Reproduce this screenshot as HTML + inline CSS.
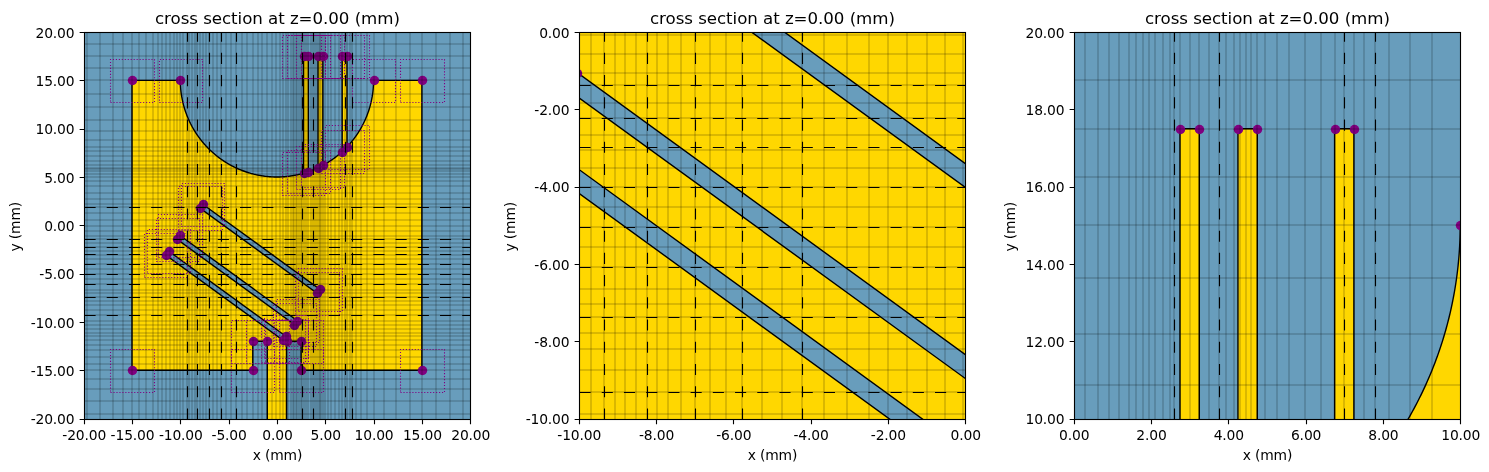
<!DOCTYPE html>
<html lang="en"><head><meta charset="utf-8"><title>cross section at z=0.00 (mm)</title>
<style>html,body{margin:0;padding:0;background:#fff}svg{display:block}.t{font-family:"DejaVu Sans","Liberation Sans",sans-serif;font-size:13.89px;fill:#000;letter-spacing:-0.15px}.ti{font-family:"DejaVu Sans","Liberation Sans",sans-serif;font-size:16.67px;fill:#000;letter-spacing:-0.05px}</style></head><body>
<svg width="1489" height="472" viewBox="0 0 1489 472">
<rect width="1489" height="472" fill="#fff"/>
<defs>
<clipPath id="c0"><rect x="84" y="32" width="386" height="387"/></clipPath>
<clipPath id="c1"><rect x="579" y="32" width="386" height="387"/></clipPath>
<clipPath id="c2"><rect x="1074" y="32" width="386" height="387"/></clipPath>
</defs>
<g clip-path="url(#c0)">
<rect x="81.7" y="30.05" width="390.5" height="390.5" fill="#689dbc"/>
<path d="M132.01 370.24 L252.79 370.24 L252.79 341.25 L267.29 341.25 L267.29 437.88 L286.61 437.88 L286.61 341.25 L301.11 341.25 L301.11 370.24 L421.89 370.24 L421.89 80.36 L373.57 80.36 L373.57 80.36 L373.57 81.12 L373.56 81.88 L373.55 82.64 L373.53 83.4 L373.5 84.16 L373.47 84.91 L373.43 85.67 L373.38 86.43 L373.33 87.19 L373.28 87.94 L373.21 88.7 L373.15 89.46 L373.07 90.21 L372.99 90.97 L372.91 91.72 L372.81 92.47 L372.72 93.23 L372.61 93.98 L372.5 94.73 L372.39 95.48 L372.26 96.23 L372.14 96.98 L372 97.72 L371.86 98.47 L371.72 99.21 L371.57 99.96 L371.41 100.7 L371.25 101.44 L371.08 102.18 L370.91 102.92 L370.73 103.66 L370.54 104.39 L370.35 105.13 L370.15 105.86 L369.95 106.59 L369.74 107.32 L369.52 108.05 L369.3 108.77 L369.08 109.5 L368.85 110.22 L368.61 110.94 L368.37 111.66 L368.12 112.38 L367.86 113.09 L367.6 113.81 L367.34 114.52 L367.07 115.23 L366.79 115.93 L366.51 116.64 L366.22 117.34 L365.93 118.04 L365.63 118.74 L365.32 119.43 L365.01 120.13 L364.7 120.82 L364.38 121.5 L364.05 122.19 L363.72 122.87 L363.39 123.55 L363.04 124.23 L362.7 124.9 L362.34 125.58 L361.99 126.25 L361.62 126.91 L361.25 127.58 L360.88 128.24 L360.5 128.89 L360.12 129.55 L359.73 130.2 L359.34 130.85 L358.94 131.49 L358.53 132.14 L358.12 132.78 L357.71 133.41 L357.29 134.04 L356.87 134.67 L356.44 135.3 L356 135.92 L355.56 136.54 L355.12 137.16 L354.67 137.77 L354.22 138.38 L353.76 138.98 L353.3 139.58 L352.83 140.18 L352.36 140.78 L351.88 141.37 L351.4 141.95 L350.91 142.54 L350.42 143.12 L349.93 143.69 L349.43 144.26 L348.93 144.83 L348.42 145.39 L347.9 145.95 L347.39 146.51 L347 146.91 L347 56.21 L342.17 56.21 L342.17 151.65 L341.98 151.83 L341.42 152.34 L340.85 152.84 L340.28 153.34 L339.7 153.84 L339.12 154.33 L338.54 154.81 L337.95 155.29 L337.36 155.77 L336.77 156.24 L336.17 156.71 L335.57 157.17 L334.97 157.63 L334.36 158.09 L333.74 158.53 L333.13 158.98 L332.51 159.42 L331.89 159.85 L331.26 160.28 L330.63 160.7 L330 161.12 L329.36 161.54 L328.72 161.95 L328.08 162.35 L327.44 162.75 L326.79 163.14 L326.14 163.53 L325.48 163.92 L324.82 164.29 L324.16 164.67 L323.5 165.04 L322.85 165.39 L322.85 56.21 L318.02 56.21 L318.02 167.83 L317.4 168.11 L316.71 168.43 L316.02 168.74 L315.32 169.04 L314.63 169.34 L313.93 169.63 L313.22 169.92 L312.52 170.2 L311.81 170.48 L311.1 170.75 L310.39 171.02 L309.68 171.28 L308.97 171.53 L308.35 171.74 L308.35 56.21 L303.52 56.21 L303.52 173.26 L303.18 173.36 L302.45 173.56 L301.71 173.76 L300.98 173.95 L300.24 174.14 L299.51 174.32 L298.77 174.49 L298.03 174.66 L297.29 174.82 L296.54 174.98 L295.8 175.13 L295.06 175.28 L294.31 175.42 L293.56 175.55 L292.81 175.68 L292.07 175.8 L291.32 175.91 L290.56 176.02 L289.81 176.13 L289.06 176.23 L288.31 176.32 L287.55 176.4 L286.8 176.48 L286.04 176.56 L285.29 176.63 L284.53 176.69 L283.77 176.75 L283.02 176.8 L282.26 176.84 L281.5 176.88 L280.74 176.91 L279.99 176.94 L279.23 176.96 L278.47 176.98 L277.71 176.98 L276.95 176.99 L276.19 176.98 L275.43 176.98 L274.67 176.96 L273.91 176.94 L273.16 176.91 L272.4 176.88 L271.64 176.84 L270.88 176.8 L270.13 176.75 L269.37 176.69 L268.61 176.63 L267.86 176.56 L267.1 176.48 L266.35 176.4 L265.59 176.32 L264.84 176.23 L264.09 176.13 L263.34 176.02 L262.58 175.91 L261.83 175.8 L261.09 175.68 L260.34 175.55 L259.59 175.42 L258.84 175.28 L258.1 175.13 L257.36 174.98 L256.61 174.82 L255.87 174.66 L255.13 174.49 L254.39 174.32 L253.66 174.14 L252.92 173.95 L252.19 173.76 L251.45 173.56 L250.72 173.36 L249.99 173.15 L249.26 172.94 L248.54 172.72 L247.81 172.49 L247.09 172.26 L246.37 172.02 L245.65 171.78 L244.93 171.53 L244.22 171.28 L243.51 171.02 L242.8 170.75 L242.09 170.48 L241.38 170.2 L240.68 169.92 L239.97 169.63 L239.27 169.34 L238.58 169.04 L237.88 168.74 L237.19 168.43 L236.5 168.11 L235.81 167.79 L235.12 167.47 L234.44 167.13 L233.76 166.8 L233.08 166.46 L232.41 166.11 L231.74 165.76 L231.07 165.4 L230.4 165.04 L229.74 164.67 L229.08 164.29 L228.42 163.92 L227.76 163.53 L227.11 163.14 L226.46 162.75 L225.82 162.35 L225.18 161.95 L224.54 161.54 L223.9 161.12 L223.27 160.7 L222.64 160.28 L222.01 159.85 L221.39 159.42 L220.77 158.98 L220.16 158.53 L219.54 158.09 L218.93 157.63 L218.33 157.17 L217.73 156.71 L217.13 156.24 L216.54 155.77 L215.95 155.29 L215.36 154.81 L214.78 154.33 L214.2 153.84 L213.62 153.34 L213.05 152.84 L212.48 152.34 L211.92 151.83 L211.36 151.32 L210.81 150.8 L210.25 150.28 L209.71 149.75 L209.16 149.22 L208.63 148.69 L208.09 148.15 L207.56 147.61 L207.04 147.06 L206.51 146.51 L206 145.95 L205.48 145.39 L204.97 144.83 L204.47 144.26 L203.97 143.69 L203.48 143.12 L202.99 142.54 L202.5 141.95 L202.02 141.37 L201.54 140.78 L201.07 140.18 L200.6 139.58 L200.14 138.98 L199.68 138.38 L199.23 137.77 L198.78 137.16 L198.34 136.54 L197.9 135.92 L197.46 135.3 L197.03 134.67 L196.61 134.04 L196.19 133.41 L195.78 132.78 L195.37 132.14 L194.96 131.49 L194.56 130.85 L194.17 130.2 L193.78 129.55 L193.4 128.89 L193.02 128.24 L192.65 127.58 L192.28 126.91 L191.91 126.25 L191.56 125.58 L191.2 124.9 L190.86 124.23 L190.51 123.55 L190.18 122.87 L189.85 122.19 L189.52 121.5 L189.2 120.82 L188.89 120.13 L188.58 119.43 L188.27 118.74 L187.97 118.04 L187.68 117.34 L187.39 116.64 L187.11 115.93 L186.83 115.23 L186.56 114.52 L186.3 113.81 L186.04 113.09 L185.78 112.38 L185.53 111.66 L185.29 110.94 L185.05 110.22 L184.82 109.5 L184.6 108.77 L184.38 108.05 L184.16 107.32 L183.95 106.59 L183.75 105.86 L183.55 105.13 L183.36 104.39 L183.17 103.66 L182.99 102.92 L182.82 102.18 L182.65 101.44 L182.49 100.7 L182.33 99.96 L182.18 99.21 L182.04 98.47 L181.9 97.72 L181.76 96.98 L181.64 96.23 L181.51 95.48 L181.4 94.73 L181.29 93.98 L181.18 93.23 L181.09 92.47 L180.99 91.72 L180.91 90.97 L180.83 90.21 L180.75 89.46 L180.69 88.7 L180.62 87.94 L180.57 87.19 L180.52 86.43 L180.47 85.67 L180.43 84.91 L180.4 84.16 L180.37 83.4 L180.35 82.64 L180.34 81.88 L180.33 81.12 L180.32 80.36 L132.01 80.36 Z M202.7 204.2 L319.96 289.39 L317.12 293.3 L199.86 208.11 Z M179.99 235.47 L297.24 320.66 L294.4 324.57 L177.15 239.38 Z M168.63 251.1 L285.88 336.3 L283.04 340.2 L165.79 255.01 Z" fill="#ffd700" fill-rule="evenodd" stroke="#000" stroke-width="1.39" stroke-linejoin="miter"/>
<circle cx="132.5" cy="370.5" r="4.75" fill="#800080"/>
<circle cx="422.5" cy="370.5" r="4.75" fill="#800080"/>
<circle cx="422.5" cy="80.5" r="4.75" fill="#800080"/>
<circle cx="132.5" cy="80.5" r="4.75" fill="#800080"/>
<circle cx="374.5" cy="80.5" r="4.75" fill="#800080"/>
<circle cx="180.5" cy="80.5" r="4.75" fill="#800080"/>
<circle cx="253.5" cy="370.5" r="4.75" fill="#800080"/>
<circle cx="253.5" cy="341.5" r="4.75" fill="#800080"/>
<circle cx="267.5" cy="341.5" r="4.75" fill="#800080"/>
<circle cx="287.5" cy="341.5" r="4.75" fill="#800080"/>
<circle cx="301.5" cy="341.5" r="4.75" fill="#800080"/>
<circle cx="301.5" cy="370.5" r="4.75" fill="#800080"/>
<circle cx="304.5" cy="56.5" r="4.75" fill="#800080"/>
<circle cx="308.5" cy="56.5" r="4.75" fill="#800080"/>
<circle cx="304.5" cy="173.5" r="4.75" fill="#800080"/>
<circle cx="308.5" cy="172.5" r="4.75" fill="#800080"/>
<circle cx="318.5" cy="56.5" r="4.75" fill="#800080"/>
<circle cx="323.5" cy="56.5" r="4.75" fill="#800080"/>
<circle cx="318.5" cy="168.5" r="4.75" fill="#800080"/>
<circle cx="323.5" cy="165.5" r="4.75" fill="#800080"/>
<circle cx="342.5" cy="56.5" r="4.75" fill="#800080"/>
<circle cx="347.5" cy="56.5" r="4.75" fill="#800080"/>
<circle cx="342.5" cy="152.5" r="4.75" fill="#800080"/>
<circle cx="347.5" cy="147.5" r="4.75" fill="#800080"/>
<circle cx="203.5" cy="204.5" r="4.75" fill="#800080"/>
<circle cx="320.5" cy="289.5" r="4.75" fill="#800080"/>
<circle cx="317.5" cy="293.5" r="4.75" fill="#800080"/>
<circle cx="200.5" cy="208.5" r="4.75" fill="#800080"/>
<circle cx="180.5" cy="235.5" r="4.75" fill="#800080"/>
<circle cx="297.5" cy="321.5" r="4.75" fill="#800080"/>
<circle cx="294.5" cy="325.5" r="4.75" fill="#800080"/>
<circle cx="177.5" cy="239.5" r="4.75" fill="#800080"/>
<circle cx="169.5" cy="251.5" r="4.75" fill="#800080"/>
<circle cx="286.5" cy="336.5" r="4.75" fill="#800080"/>
<circle cx="283.5" cy="340.5" r="4.75" fill="#800080"/>
<circle cx="166.5" cy="255.5" r="4.75" fill="#800080"/>
<path d="M87 30.05V420.55M100 30.05V420.55M113 30.05V420.55M123 30.05V420.55M132 30.05V420.55M139 30.05V420.55M146 30.05V420.55M153 30.05V420.55M158 30.05V420.55M162 30.05V420.55M166 30.05V420.55M170 30.05V420.55M174 30.05V420.55M177 30.05V420.55M180 30.05V420.55M183 30.05V420.55M189 30.05V420.55M192 30.05V420.55M195 30.05V420.55M200 30.05V420.55M203 30.05V420.55M206 30.05V420.55M213 30.05V420.55M217 30.05V420.55M226 30.05V420.55M231 30.05V420.55M242 30.05V420.55M247 30.05V420.55M253 30.05V420.55M258 30.05V420.55M262 30.05V420.55M267 30.05V420.55M272 30.05V420.55M276 30.05V420.55M280 30.05V420.55M283 30.05V420.55M286 30.05V420.55M288 30.05V420.55M291 30.05V420.55M293 30.05V420.55M294 30.05V420.55M296 30.05V420.55M297 30.05V420.55M299 30.05V420.55M301 30.05V420.55M304 30.05V420.55M306 30.05V420.55M308 30.05V420.55M311 30.05V420.55M315 30.05V420.55M317 30.05V420.55M319 30.05V420.55M320 30.05V420.55M321 30.05V420.55M323 30.05V420.55M325 30.05V420.55M328 30.05V420.55M331 30.05V420.55M335 30.05V420.55M339 30.05V420.55M342 30.05V420.55M347 30.05V420.55M350 30.05V420.55M356 30.05V420.55M361 30.05V420.55M367 30.05V420.55M374 30.05V420.55M384 30.05V420.55M396 30.05V420.55M410 30.05V420.55M422 30.05V420.55M436 30.05V420.55M450 30.05V420.55M463 30.05V420.55M187 30.05V420.55M197 30.05V420.55M209 30.05V420.55M221 30.05V420.55M236 30.05V420.55M302 30.05V420.55M313 30.05V420.55M345 30.05V420.55M352 30.05V420.55M81.7 44H472.2M81.7 56H472.2M81.7 68H472.2M81.7 80H472.2M81.7 94H472.2M81.7 107H472.2M81.7 120H472.2M81.7 131H472.2M81.7 140H472.2M81.7 147H472.2M81.7 151H472.2M81.7 156H472.2M81.7 161H472.2M81.7 165H472.2M81.7 168H472.2M81.7 169H472.2M81.7 171H472.2M81.7 174H472.2M81.7 177H472.2M81.7 181H472.2M81.7 186H472.2M81.7 193H472.2M81.7 199H472.2M81.7 204H472.2M81.7 213H472.2M81.7 220H472.2M81.7 226H472.2M81.7 231H472.2M81.7 236H472.2M81.7 243H472.2M81.7 251H472.2M81.7 255H472.2M81.7 259H472.2M81.7 269H472.2M81.7 279H472.2M81.7 290H472.2M81.7 293H472.2M81.7 301H472.2M81.7 305H472.2M81.7 310H472.2M81.7 321H472.2M81.7 325H472.2M81.7 329H472.2M81.7 333H472.2M81.7 336H472.2M81.7 340H472.2M81.7 345H472.2M81.7 350H472.2M81.7 357H472.2M81.7 364H472.2M81.7 370H472.2M81.7 379H472.2M81.7 389H472.2M81.7 401H472.2M81.7 414H472.2M81.7 207H472.2M81.7 239H472.2M81.7 247H472.2M81.7 264H472.2M81.7 274H472.2M81.7 284H472.2M81.7 297H472.2M81.7 315H472.2" fill="none" stroke="#000" stroke-width="0.3" stroke-opacity="1.0"/>
<path d="M110.5 392.5H154.5V349.5H110.5ZM400.5 392.5H444.5V349.5H400.5ZM400.5 102.5H444.5V59.5H400.5ZM110.5 102.5H154.5V59.5H110.5ZM352.5 102.5H395.5V59.5H352.5ZM159.5 102.5H202.5V59.5H159.5ZM231.5 392.5H274.5V349.5H231.5ZM231.5 363.5H274.5V320.5H231.5ZM246.5 363.5H289.5V320.5H246.5ZM265.5 363.5H308.5V320.5H265.5ZM279.5 363.5H323.5V320.5H279.5ZM279.5 392.5H323.5V349.5H279.5ZM282.5 78.5H325.5V35.5H282.5ZM287.5 78.5H330.5V35.5H287.5ZM282.5 195.5H325.5V152.5H282.5ZM287.5 193.5H330.5V150.5H287.5ZM296.5 78.5H340.5V35.5H296.5ZM301.5 78.5H344.5V35.5H301.5ZM296.5 189.5H340.5V146.5H296.5ZM301.5 187.5H344.5V144.5H301.5ZM321.5 78.5H364.5V35.5H321.5ZM325.5 78.5H369.5V35.5H325.5ZM321.5 173.5H364.5V130.5H321.5ZM325.5 169.5H369.5V125.5H325.5ZM181.5 226.5H224.5V183.5H181.5ZM298.5 311.5H342.5V268.5H298.5ZM295.5 315.5H339.5V272.5H295.5ZM178.5 230.5H222.5V186.5H178.5ZM158.5 257.5H202.5V214.5H158.5ZM276.5 342.5H319.5V299.5H276.5ZM273.5 346.5H316.5V303.5H273.5ZM156.5 261.5H199.5V218.5H156.5ZM147.5 273.5H190.5V229.5H147.5ZM264.5 358.5H308.5V315.5H264.5ZM261.5 362.5H305.5V319.5H261.5ZM144.5 277.5H187.5V233.5H144.5Z" fill="none" stroke="#800080" stroke-width="1.11" stroke-dasharray="1.12 1.845"/>
<path d="M187.5 419.5V32.5M197.5 419.5V32.5M209.5 419.5V32.5M221.5 419.5V32.5M236.5 419.5V32.5M302.5 419.5V32.5M313.5 419.5V32.5M345.5 419.5V32.5M352.5 419.5V32.5M84.5 207.5H470.5M84.5 239.5H470.5M84.5 247.5H470.5M84.5 254.5H470.5M84.5 264.5H470.5M84.5 274.5H470.5M84.5 284.5H470.5M84.5 297.5H470.5M84.5 315.5H470.5" fill="none" stroke="#000" stroke-width="1.11" stroke-dasharray="11.11 11.11"/>
</g>
<text x="84.2" y="440.25" text-anchor="middle" class="t">-20.00</text>
<text x="74.48" y="37.85" text-anchor="end" class="t">20.00</text>
<text x="132.51" y="440.25" text-anchor="middle" class="t">-15.00</text>
<text x="74.48" y="86.16" text-anchor="end" class="t">15.00</text>
<text x="180.82" y="440.25" text-anchor="middle" class="t">-10.00</text>
<text x="74.48" y="134.48" text-anchor="end" class="t">10.00</text>
<text x="229.14" y="440.25" text-anchor="middle" class="t">-5.00</text>
<text x="74.48" y="182.79" text-anchor="end" class="t">5.00</text>
<text x="277.45" y="440.25" text-anchor="middle" class="t">0.00</text>
<text x="74.48" y="231.1" text-anchor="end" class="t">0.00</text>
<text x="325.76" y="440.25" text-anchor="middle" class="t">5.00</text>
<text x="74.48" y="279.41" text-anchor="end" class="t">-5.00</text>
<text x="374.07" y="440.25" text-anchor="middle" class="t">10.00</text>
<text x="74.48" y="327.73" text-anchor="end" class="t">-10.00</text>
<text x="422.39" y="440.25" text-anchor="middle" class="t">15.00</text>
<text x="74.48" y="376.04" text-anchor="end" class="t">-15.00</text>
<text x="470.7" y="440.25" text-anchor="middle" class="t">20.00</text>
<text x="74.48" y="424.35" text-anchor="end" class="t">-20.00</text>
<path d="M84.5 419.5v4.86M84.5 32.5h-4.86M132.5 419.5v4.86M84.5 80.5h-4.86M180.5 419.5v4.86M84.5 129.5h-4.86M229.5 419.5v4.86M84.5 177.5h-4.86M277.5 419.5v4.86M84.5 225.5h-4.86M325.5 419.5v4.86M84.5 274.5h-4.86M374.5 419.5v4.86M84.5 322.5h-4.86M422.5 419.5v4.86M84.5 370.5h-4.86M470.5 419.5v4.86M84.5 419.5h-4.86" stroke="#000" stroke-width="1.11" fill="none"/>
<rect x="84.5" y="32.5" width="386" height="387" fill="none" stroke="#000" stroke-width="1.11"/>
<text x="277.45" y="23.95" text-anchor="middle" class="ti">cross section at z=0.00 (mm)</text>
<text x="277.45" y="460.25" text-anchor="middle" class="t">x (mm)</text>
<text transform="translate(19.8 226.75) rotate(-90)" text-anchor="middle" class="t">y (mm)</text>
<g clip-path="url(#c1)">
<rect x="576.7" y="30.05" width="390.5" height="390.5" fill="#689dbc"/>
<path d="M385.45 611.8 L868.58 611.8 L868.58 495.85 L926.55 495.85 L926.55 882.35 L1003.85 882.35 L1003.85 495.85 L1061.83 495.85 L1061.83 611.8 L1544.95 611.8 L1544.95 -547.7 L1351.7 -547.7 L1351.7 -547.7 L1351.69 -544.66 L1351.65 -541.63 L1351.59 -538.59 L1351.51 -535.56 L1351.4 -532.53 L1351.27 -529.49 L1351.12 -526.46 L1350.94 -523.43 L1350.73 -520.4 L1350.51 -517.38 L1350.26 -514.35 L1349.98 -511.33 L1349.69 -508.31 L1349.37 -505.29 L1349.02 -502.27 L1348.65 -499.26 L1348.26 -496.25 L1347.84 -493.24 L1347.4 -490.24 L1346.94 -487.24 L1346.45 -484.24 L1345.94 -481.25 L1345.41 -478.26 L1344.85 -475.28 L1344.27 -472.3 L1343.67 -469.32 L1343.04 -466.35 L1342.39 -463.39 L1341.72 -460.43 L1341.02 -457.47 L1340.3 -454.52 L1339.56 -451.58 L1338.79 -448.64 L1338 -445.71 L1337.19 -442.79 L1336.35 -439.87 L1335.5 -436.96 L1334.61 -434.05 L1333.71 -431.16 L1332.78 -428.26 L1331.83 -425.38 L1330.86 -422.51 L1329.87 -419.64 L1328.85 -416.78 L1327.81 -413.93 L1326.75 -411.08 L1325.66 -408.25 L1324.56 -405.42 L1323.43 -402.6 L1322.28 -399.79 L1321.11 -396.99 L1319.91 -394.2 L1318.7 -391.42 L1317.46 -388.65 L1316.2 -385.89 L1314.92 -383.14 L1313.61 -380.39 L1312.29 -377.66 L1310.94 -374.94 L1309.57 -372.23 L1308.19 -369.53 L1306.78 -366.85 L1305.34 -364.17 L1303.89 -361.5 L1302.42 -358.85 L1300.93 -356.21 L1299.41 -353.57 L1297.88 -350.96 L1296.32 -348.35 L1294.75 -345.75 L1293.15 -343.17 L1291.53 -340.6 L1289.9 -338.05 L1288.24 -335.5 L1286.56 -332.97 L1284.87 -330.45 L1283.15 -327.95 L1281.41 -325.46 L1279.66 -322.98 L1277.89 -320.52 L1276.09 -318.07 L1274.28 -315.64 L1272.45 -313.22 L1270.59 -310.81 L1268.72 -308.42 L1266.84 -306.04 L1264.93 -303.68 L1263 -301.34 L1261.06 -299 L1259.1 -296.69 L1257.12 -294.39 L1255.12 -292.1 L1253.1 -289.83 L1251.07 -287.58 L1249.02 -285.34 L1246.95 -283.12 L1245.41 -281.5 L1245.41 -644.33 L1226.09 -644.33 L1226.09 -262.53 L1225.32 -261.83 L1223.07 -259.8 L1220.8 -257.78 L1218.51 -255.78 L1216.21 -253.8 L1213.9 -251.84 L1211.56 -249.9 L1209.22 -247.97 L1206.86 -246.06 L1204.48 -244.18 L1202.09 -242.31 L1199.68 -240.45 L1197.26 -238.62 L1194.83 -236.81 L1192.38 -235.01 L1189.92 -233.24 L1187.44 -231.49 L1184.95 -229.75 L1182.45 -228.03 L1179.93 -226.34 L1177.4 -224.66 L1174.85 -223 L1172.3 -221.37 L1169.73 -219.75 L1167.15 -218.15 L1164.55 -216.58 L1161.94 -215.02 L1159.33 -213.49 L1156.69 -211.97 L1154.05 -210.48 L1151.4 -209.01 L1148.79 -207.59 L1148.79 -644.33 L1129.46 -644.33 L1129.46 -197.84 L1127.01 -196.7 L1124.25 -195.44 L1121.48 -194.2 L1118.7 -192.99 L1115.91 -191.79 L1113.11 -190.62 L1110.3 -189.47 L1107.48 -188.34 L1104.65 -187.24 L1101.82 -186.15 L1098.97 -185.09 L1096.12 -184.05 L1093.26 -183.03 L1090.81 -182.18 L1090.81 -644.33 L1071.49 -644.33 L1071.49 -176.1 L1070.11 -175.71 L1067.19 -174.9 L1064.26 -174.11 L1061.32 -173.34 L1058.38 -172.6 L1055.43 -171.88 L1052.47 -171.18 L1049.51 -170.51 L1046.55 -169.86 L1043.58 -169.23 L1040.6 -168.63 L1037.62 -168.05 L1034.64 -167.49 L1031.65 -166.96 L1028.66 -166.45 L1025.66 -165.96 L1022.66 -165.5 L1019.66 -165.06 L1016.65 -164.64 L1013.64 -164.25 L1010.63 -163.88 L1007.61 -163.53 L1004.59 -163.21 L1001.57 -162.92 L998.55 -162.64 L995.52 -162.39 L992.5 -162.17 L989.47 -161.96 L986.44 -161.78 L983.41 -161.63 L980.37 -161.5 L977.34 -161.39 L974.31 -161.31 L971.27 -161.25 L968.24 -161.21 L965.2 -161.2 L962.16 -161.21 L959.13 -161.25 L956.09 -161.31 L953.06 -161.39 L950.03 -161.5 L946.99 -161.63 L943.96 -161.78 L940.93 -161.96 L937.9 -162.17 L934.88 -162.39 L931.85 -162.64 L928.83 -162.92 L925.81 -163.21 L922.79 -163.53 L919.77 -163.88 L916.76 -164.25 L913.75 -164.64 L910.74 -165.06 L907.74 -165.5 L904.74 -165.96 L901.74 -166.45 L898.75 -166.96 L895.76 -167.49 L892.78 -168.05 L889.8 -168.63 L886.82 -169.23 L883.85 -169.86 L880.89 -170.51 L877.93 -171.18 L874.97 -171.88 L872.02 -172.6 L869.08 -173.34 L866.14 -174.11 L863.21 -174.9 L860.29 -175.71 L857.37 -176.55 L854.46 -177.4 L851.55 -178.29 L848.66 -179.19 L845.76 -180.12 L842.88 -181.07 L840.01 -182.04 L837.14 -183.03 L834.28 -184.05 L831.43 -185.09 L828.58 -186.15 L825.75 -187.24 L822.92 -188.34 L820.1 -189.47 L817.29 -190.62 L814.49 -191.79 L811.7 -192.99 L808.92 -194.2 L806.15 -195.44 L803.39 -196.7 L800.64 -197.98 L797.89 -199.29 L795.16 -200.61 L792.44 -201.96 L789.73 -203.33 L787.03 -204.71 L784.35 -206.12 L781.67 -207.56 L779 -209.01 L776.35 -210.48 L773.71 -211.97 L771.07 -213.49 L768.46 -215.02 L765.85 -216.58 L763.25 -218.15 L760.67 -219.75 L758.1 -221.37 L755.55 -223 L753 -224.66 L750.47 -226.34 L747.95 -228.03 L745.45 -229.75 L742.96 -231.49 L740.48 -233.24 L738.02 -235.01 L735.57 -236.81 L733.14 -238.62 L730.72 -240.45 L728.31 -242.31 L725.92 -244.18 L723.54 -246.06 L721.18 -247.97 L718.84 -249.9 L716.5 -251.84 L714.19 -253.8 L711.89 -255.78 L709.6 -257.78 L707.33 -259.8 L705.08 -261.83 L702.84 -263.88 L700.62 -265.95 L698.42 -268.04 L696.23 -270.14 L694.06 -272.27 L691.9 -274.4 L689.77 -276.56 L687.64 -278.73 L685.54 -280.92 L683.45 -283.12 L681.38 -285.34 L679.33 -287.58 L677.3 -289.83 L675.28 -292.1 L673.28 -294.39 L671.3 -296.69 L669.34 -299 L667.4 -301.34 L665.47 -303.68 L663.56 -306.04 L661.68 -308.42 L659.81 -310.81 L657.95 -313.22 L656.12 -315.64 L654.31 -318.07 L652.51 -320.52 L650.74 -322.98 L648.99 -325.46 L647.25 -327.95 L645.53 -330.45 L643.84 -332.97 L642.16 -335.5 L640.5 -338.05 L638.87 -340.6 L637.25 -343.17 L635.65 -345.75 L634.08 -348.35 L632.52 -350.96 L630.99 -353.57 L629.47 -356.21 L627.98 -358.85 L626.51 -361.5 L625.06 -364.17 L623.62 -366.85 L622.21 -369.53 L620.83 -372.23 L619.46 -374.94 L618.11 -377.66 L616.79 -380.39 L615.48 -383.14 L614.2 -385.89 L612.94 -388.65 L611.7 -391.42 L610.49 -394.2 L609.29 -396.99 L608.12 -399.79 L606.97 -402.6 L605.84 -405.42 L604.74 -408.25 L603.65 -411.08 L602.59 -413.93 L601.55 -416.78 L600.53 -419.64 L599.54 -422.51 L598.57 -425.38 L597.62 -428.26 L596.69 -431.16 L595.79 -434.05 L594.9 -436.96 L594.05 -439.87 L593.21 -442.79 L592.4 -445.71 L591.61 -448.64 L590.84 -451.58 L590.1 -454.52 L589.38 -457.47 L588.68 -460.43 L588.01 -463.39 L587.36 -466.35 L586.73 -469.32 L586.13 -472.3 L585.55 -475.28 L584.99 -478.26 L584.46 -481.25 L583.95 -484.24 L583.46 -487.24 L583 -490.24 L582.56 -493.24 L582.14 -496.25 L581.75 -499.26 L581.38 -502.27 L581.03 -505.29 L580.71 -508.31 L580.42 -511.33 L580.14 -514.35 L579.89 -517.38 L579.67 -520.4 L579.46 -523.43 L579.28 -526.46 L579.13 -529.49 L579 -532.53 L578.89 -535.56 L578.81 -538.59 L578.75 -541.63 L578.71 -544.66 L578.7 -547.7 L385.45 -547.7 Z M668.21 -52.35 L1137.24 288.42 L1125.88 304.06 L656.85 -36.71 Z M577.34 72.73 L1046.37 413.5 L1035.01 429.13 L565.98 88.36 Z M531.9 135.27 L1000.93 476.03 L989.57 491.67 L520.55 150.9 Z" fill="#ffd700" fill-rule="evenodd" stroke="#000" stroke-width="1.39" stroke-linejoin="miter"/>
<circle cx="577.5" cy="73.5" r="4.75" fill="#800080"/>
<circle cx="566.5" cy="88.5" r="4.75" fill="#800080"/>
<path d="M591 30.05V420.55M615 30.05V420.55M625 30.05V420.55M636 30.05V420.55M657 30.05V420.55M668 30.05V420.55M681 30.05V420.55M710 30.05V420.55M726 30.05V420.55M762 30.05V420.55M782 30.05V420.55M824 30.05V420.55M847 30.05V420.55M869 30.05V420.55M888 30.05V420.55M907 30.05V420.55M927 30.05V420.55M945 30.05V420.55M963 30.05V420.55M604 30.05V420.55M647 30.05V420.55M695 30.05V420.55M742 30.05V420.55M802 30.05V420.55M576.7 35H967.2M576.7 54H967.2M576.7 73H967.2M576.7 103H967.2M576.7 135H967.2M576.7 150H967.2M576.7 168H967.2M576.7 207H967.2M576.7 247H967.2M576.7 289H967.2M576.7 304H967.2M576.7 333H967.2M576.7 349H967.2M576.7 370H967.2M576.7 414H967.2M576.7 85H967.2M576.7 118H967.2M576.7 187H967.2M576.7 227H967.2M576.7 267H967.2M576.7 317H967.2M576.7 392H967.2" fill="none" stroke="#000" stroke-width="0.3" stroke-opacity="1.0"/>
<path d="M604.5 419.5V32.5M647.5 419.5V32.5M695.5 419.5V32.5M742.5 419.5V32.5M802.5 419.5V32.5M579.5 85.5H965.5M579.5 118.5H965.5M579.5 147.5H965.5M579.5 187.5H965.5M579.5 227.5H965.5M579.5 267.5H965.5M579.5 317.5H965.5M579.5 392.5H965.5" fill="none" stroke="#000" stroke-width="1.11" stroke-dasharray="11.11 11.11"/>
</g>
<text x="579.2" y="440.25" text-anchor="middle" class="t">-10.00</text>
<text x="569.48" y="37.85" text-anchor="end" class="t">0.00</text>
<text x="656.5" y="440.25" text-anchor="middle" class="t">-8.00</text>
<text x="569.48" y="115.15" text-anchor="end" class="t">-2.00</text>
<text x="733.8" y="440.25" text-anchor="middle" class="t">-6.00</text>
<text x="569.48" y="192.45" text-anchor="end" class="t">-4.00</text>
<text x="811.1" y="440.25" text-anchor="middle" class="t">-4.00</text>
<text x="569.48" y="269.75" text-anchor="end" class="t">-6.00</text>
<text x="888.4" y="440.25" text-anchor="middle" class="t">-2.00</text>
<text x="569.48" y="347.05" text-anchor="end" class="t">-8.00</text>
<text x="965.7" y="440.25" text-anchor="middle" class="t">0.00</text>
<text x="569.48" y="424.35" text-anchor="end" class="t">-10.00</text>
<path d="M579.5 419.5v4.86M579.5 32.5h-4.86M656.5 419.5v4.86M579.5 109.5h-4.86M733.5 419.5v4.86M579.5 187.5h-4.86M811.5 419.5v4.86M579.5 264.5h-4.86M888.5 419.5v4.86M579.5 341.5h-4.86M965.5 419.5v4.86M579.5 419.5h-4.86" stroke="#000" stroke-width="1.11" fill="none"/>
<rect x="579.5" y="32.5" width="386" height="387" fill="none" stroke="#000" stroke-width="1.11"/>
<text x="772.45" y="23.95" text-anchor="middle" class="ti">cross section at z=0.00 (mm)</text>
<text x="772.45" y="460.25" text-anchor="middle" class="t">x (mm)</text>
<text transform="translate(514.8 226.75) rotate(-90)" text-anchor="middle" class="t">y (mm)</text>
<g clip-path="url(#c2)">
<rect x="1071.7" y="30.05" width="390.5" height="390.5" fill="#689dbc"/>
<path d="M493.95 1384.8 L977.08 1384.8 L977.08 1268.85 L1035.05 1268.85 L1035.05 1655.35 L1112.35 1655.35 L1112.35 1268.85 L1170.33 1268.85 L1170.33 1384.8 L1653.45 1384.8 L1653.45 225.3 L1460.2 225.3 L1460.2 225.3 L1460.19 228.34 L1460.15 231.37 L1460.09 234.41 L1460.01 237.44 L1459.9 240.47 L1459.77 243.51 L1459.62 246.54 L1459.44 249.57 L1459.23 252.6 L1459.01 255.62 L1458.76 258.65 L1458.48 261.67 L1458.19 264.69 L1457.87 267.71 L1457.52 270.73 L1457.15 273.74 L1456.76 276.75 L1456.34 279.76 L1455.9 282.76 L1455.44 285.76 L1454.95 288.76 L1454.44 291.75 L1453.91 294.74 L1453.35 297.72 L1452.77 300.7 L1452.17 303.68 L1451.54 306.65 L1450.89 309.61 L1450.22 312.57 L1449.52 315.53 L1448.8 318.48 L1448.06 321.42 L1447.29 324.36 L1446.5 327.29 L1445.69 330.21 L1444.85 333.13 L1444 336.04 L1443.11 338.95 L1442.21 341.84 L1441.28 344.74 L1440.33 347.62 L1439.36 350.49 L1438.37 353.36 L1437.35 356.22 L1436.31 359.07 L1435.25 361.92 L1434.16 364.75 L1433.06 367.58 L1431.93 370.4 L1430.78 373.21 L1429.61 376.01 L1428.41 378.8 L1427.2 381.58 L1425.96 384.35 L1424.7 387.11 L1423.42 389.86 L1422.11 392.61 L1420.79 395.34 L1419.44 398.06 L1418.07 400.77 L1416.69 403.47 L1415.28 406.15 L1413.84 408.83 L1412.39 411.5 L1410.92 414.15 L1409.43 416.79 L1407.91 419.43 L1406.38 422.04 L1404.82 424.65 L1403.25 427.25 L1401.65 429.83 L1400.03 432.4 L1398.4 434.95 L1396.74 437.5 L1395.06 440.03 L1393.37 442.55 L1391.65 445.05 L1389.91 447.54 L1388.16 450.02 L1386.39 452.48 L1384.59 454.93 L1382.78 457.36 L1380.95 459.78 L1379.09 462.19 L1377.22 464.58 L1375.34 466.96 L1373.43 469.32 L1371.5 471.66 L1369.56 474 L1367.6 476.31 L1365.62 478.61 L1363.62 480.9 L1361.6 483.17 L1359.57 485.42 L1357.52 487.66 L1355.45 489.88 L1353.91 491.5 L1353.91 128.68 L1334.59 128.68 L1334.59 510.47 L1333.82 511.17 L1331.57 513.2 L1329.3 515.22 L1327.01 517.22 L1324.71 519.2 L1322.4 521.16 L1320.06 523.1 L1317.72 525.03 L1315.36 526.94 L1312.98 528.82 L1310.59 530.69 L1308.18 532.55 L1305.76 534.38 L1303.33 536.19 L1300.88 537.99 L1298.42 539.76 L1295.94 541.51 L1293.45 543.25 L1290.95 544.97 L1288.43 546.66 L1285.9 548.34 L1283.35 550 L1280.8 551.63 L1278.23 553.25 L1275.65 554.85 L1273.05 556.42 L1270.44 557.98 L1267.83 559.51 L1265.19 561.03 L1262.55 562.52 L1259.9 563.99 L1257.29 565.41 L1257.29 128.68 L1237.96 128.68 L1237.96 575.16 L1235.51 576.3 L1232.75 577.56 L1229.98 578.8 L1227.2 580.01 L1224.41 581.21 L1221.61 582.38 L1218.8 583.53 L1215.98 584.66 L1213.15 585.76 L1210.32 586.85 L1207.47 587.91 L1204.62 588.95 L1201.76 589.97 L1199.31 590.82 L1199.31 128.68 L1179.99 128.68 L1179.99 596.9 L1178.61 597.29 L1175.69 598.1 L1172.76 598.89 L1169.82 599.66 L1166.88 600.4 L1163.93 601.12 L1160.97 601.82 L1158.01 602.49 L1155.05 603.14 L1152.08 603.77 L1149.1 604.37 L1146.12 604.95 L1143.14 605.51 L1140.15 606.04 L1137.16 606.55 L1134.16 607.04 L1131.16 607.5 L1128.16 607.94 L1125.15 608.36 L1122.14 608.75 L1119.13 609.12 L1116.11 609.47 L1113.09 609.79 L1110.07 610.08 L1107.05 610.36 L1104.02 610.61 L1101 610.83 L1097.97 611.04 L1094.94 611.22 L1091.91 611.37 L1088.87 611.5 L1085.84 611.61 L1082.81 611.69 L1079.77 611.75 L1076.74 611.79 L1073.7 611.8 L1070.66 611.79 L1067.63 611.75 L1064.59 611.69 L1061.56 611.61 L1058.53 611.5 L1055.49 611.37 L1052.46 611.22 L1049.43 611.04 L1046.4 610.83 L1043.38 610.61 L1040.35 610.36 L1037.33 610.08 L1034.31 609.79 L1031.29 609.47 L1028.27 609.12 L1025.26 608.75 L1022.25 608.36 L1019.24 607.94 L1016.24 607.5 L1013.24 607.04 L1010.24 606.55 L1007.25 606.04 L1004.26 605.51 L1001.28 604.95 L998.3 604.37 L995.32 603.77 L992.35 603.14 L989.39 602.49 L986.43 601.82 L983.47 601.12 L980.52 600.4 L977.58 599.66 L974.64 598.89 L971.71 598.1 L968.79 597.29 L965.87 596.45 L962.96 595.6 L960.05 594.71 L957.16 593.81 L954.26 592.88 L951.38 591.93 L948.51 590.96 L945.64 589.97 L942.78 588.95 L939.93 587.91 L937.08 586.85 L934.25 585.76 L931.42 584.66 L928.6 583.53 L925.79 582.38 L922.99 581.21 L920.2 580.01 L917.42 578.8 L914.65 577.56 L911.89 576.3 L909.14 575.02 L906.39 573.71 L903.66 572.39 L900.94 571.04 L898.23 569.67 L895.53 568.29 L892.85 566.88 L890.17 565.44 L887.5 563.99 L884.85 562.52 L882.21 561.03 L879.57 559.51 L876.96 557.98 L874.35 556.42 L871.75 554.85 L869.17 553.25 L866.6 551.63 L864.05 550 L861.5 548.34 L858.97 546.66 L856.45 544.97 L853.95 543.25 L851.46 541.51 L848.98 539.76 L846.52 537.99 L844.07 536.19 L841.64 534.38 L839.22 532.55 L836.81 530.69 L834.42 528.82 L832.04 526.94 L829.68 525.03 L827.34 523.1 L825 521.16 L822.69 519.2 L820.39 517.22 L818.1 515.22 L815.83 513.2 L813.58 511.17 L811.34 509.12 L809.12 507.05 L806.92 504.96 L804.73 502.86 L802.56 500.73 L800.4 498.6 L798.27 496.44 L796.14 494.27 L794.04 492.08 L791.95 489.88 L789.88 487.66 L787.83 485.42 L785.8 483.17 L783.78 480.9 L781.78 478.61 L779.8 476.31 L777.84 474 L775.9 471.66 L773.97 469.32 L772.06 466.96 L770.18 464.58 L768.31 462.19 L766.45 459.78 L764.62 457.36 L762.81 454.93 L761.01 452.48 L759.24 450.02 L757.49 447.54 L755.75 445.05 L754.03 442.55 L752.34 440.03 L750.66 437.5 L749 434.95 L747.37 432.4 L745.75 429.83 L744.15 427.25 L742.58 424.65 L741.02 422.04 L739.49 419.43 L737.97 416.79 L736.48 414.15 L735.01 411.5 L733.56 408.83 L732.12 406.15 L730.71 403.47 L729.33 400.77 L727.96 398.06 L726.61 395.34 L725.29 392.61 L723.98 389.86 L722.7 387.11 L721.44 384.35 L720.2 381.58 L718.99 378.8 L717.79 376.01 L716.62 373.21 L715.47 370.4 L714.34 367.58 L713.24 364.75 L712.15 361.92 L711.09 359.07 L710.05 356.22 L709.03 353.36 L708.04 350.49 L707.07 347.62 L706.12 344.74 L705.19 341.84 L704.29 338.95 L703.4 336.04 L702.55 333.13 L701.71 330.21 L700.9 327.29 L700.11 324.36 L699.34 321.42 L698.6 318.48 L697.88 315.53 L697.18 312.57 L696.51 309.61 L695.86 306.65 L695.23 303.68 L694.63 300.7 L694.05 297.72 L693.49 294.74 L692.96 291.75 L692.45 288.76 L691.96 285.76 L691.5 282.76 L691.06 279.76 L690.64 276.75 L690.25 273.74 L689.88 270.73 L689.53 267.71 L689.21 264.69 L688.92 261.67 L688.64 258.65 L688.39 255.62 L688.17 252.6 L687.96 249.57 L687.78 246.54 L687.63 243.51 L687.5 240.47 L687.39 237.44 L687.31 234.41 L687.25 231.37 L687.21 228.34 L687.2 225.3 L493.95 225.3 Z M776.71 720.65 L1245.74 1061.42 L1234.38 1077.06 L765.35 736.29 Z M685.84 845.73 L1154.87 1186.5 L1143.51 1202.13 L674.48 861.36 Z M640.4 908.27 L1109.43 1249.03 L1098.07 1264.67 L629.05 923.9 Z" fill="#ffd700" fill-rule="evenodd" stroke="#000" stroke-width="1.39" stroke-linejoin="miter"/>
<circle cx="1460.5" cy="225.5" r="4.75" fill="#800080"/>
<circle cx="1180.5" cy="129.5" r="4.75" fill="#800080"/>
<circle cx="1199.5" cy="129.5" r="4.75" fill="#800080"/>
<circle cx="1238.5" cy="129.5" r="4.75" fill="#800080"/>
<circle cx="1257.5" cy="129.5" r="4.75" fill="#800080"/>
<circle cx="1335.5" cy="129.5" r="4.75" fill="#800080"/>
<circle cx="1354.5" cy="129.5" r="4.75" fill="#800080"/>
<path d="M1085 30.05V420.55M1098 30.05V420.55M1109 30.05V420.55M1119 30.05V420.55M1129 30.05V420.55M1136 30.05V420.55M1143 30.05V420.55M1149 30.05V420.55M1155 30.05V420.55M1163 30.05V420.55M1170 30.05V420.55M1180 30.05V420.55M1190 30.05V420.55M1199 30.05V420.55M1209 30.05V420.55M1226 30.05V420.55M1234 30.05V420.55M1240 30.05V420.55M1246 30.05V420.55M1251 30.05V420.55M1257 30.05V420.55M1265 30.05V420.55M1277 30.05V420.55M1289 30.05V420.55M1305 30.05V420.55M1321 30.05V420.55M1335 30.05V420.55M1354 30.05V420.55M1364 30.05V420.55M1389 30.05V420.55M1410 30.05V420.55M1432 30.05V420.55M1174 30.05V420.55M1219 30.05V420.55M1344 30.05V420.55M1375 30.05V420.55M1071.7 80H1462.2M1071.7 129H1462.2M1071.7 177H1462.2M1071.7 225H1462.2M1071.7 278H1462.2M1071.7 334H1462.2M1071.7 385H1462.2" fill="none" stroke="#000" stroke-width="0.3" stroke-opacity="1.0"/>
<path d="M1174.5 419.5V32.5M1219.5 419.5V32.5M1344.5 419.5V32.5M1375.5 419.5V32.5" fill="none" stroke="#000" stroke-width="1.11" stroke-dasharray="11.11 11.11"/>
</g>
<text x="1074.2" y="440.25" text-anchor="middle" class="t">0.00</text>
<text x="1064.48" y="37.85" text-anchor="end" class="t">20.00</text>
<text x="1151.5" y="440.25" text-anchor="middle" class="t">2.00</text>
<text x="1064.48" y="115.15" text-anchor="end" class="t">18.00</text>
<text x="1228.8" y="440.25" text-anchor="middle" class="t">4.00</text>
<text x="1064.48" y="192.45" text-anchor="end" class="t">16.00</text>
<text x="1306.1" y="440.25" text-anchor="middle" class="t">6.00</text>
<text x="1064.48" y="269.75" text-anchor="end" class="t">14.00</text>
<text x="1383.4" y="440.25" text-anchor="middle" class="t">8.00</text>
<text x="1064.48" y="347.05" text-anchor="end" class="t">12.00</text>
<text x="1460.7" y="440.25" text-anchor="middle" class="t">10.00</text>
<text x="1064.48" y="424.35" text-anchor="end" class="t">10.00</text>
<path d="M1074.5 419.5v4.86M1074.5 32.5h-4.86M1151.5 419.5v4.86M1074.5 109.5h-4.86M1228.5 419.5v4.86M1074.5 187.5h-4.86M1306.5 419.5v4.86M1074.5 264.5h-4.86M1383.5 419.5v4.86M1074.5 341.5h-4.86M1460.5 419.5v4.86M1074.5 419.5h-4.86" stroke="#000" stroke-width="1.11" fill="none"/>
<rect x="1074.5" y="32.5" width="386" height="387" fill="none" stroke="#000" stroke-width="1.11"/>
<text x="1267.45" y="23.95" text-anchor="middle" class="ti">cross section at z=0.00 (mm)</text>
<text x="1267.45" y="460.25" text-anchor="middle" class="t">x (mm)</text>
<text transform="translate(1015.2 226.75) rotate(-90)" text-anchor="middle" class="t">y (mm)</text>
</svg></body></html>
